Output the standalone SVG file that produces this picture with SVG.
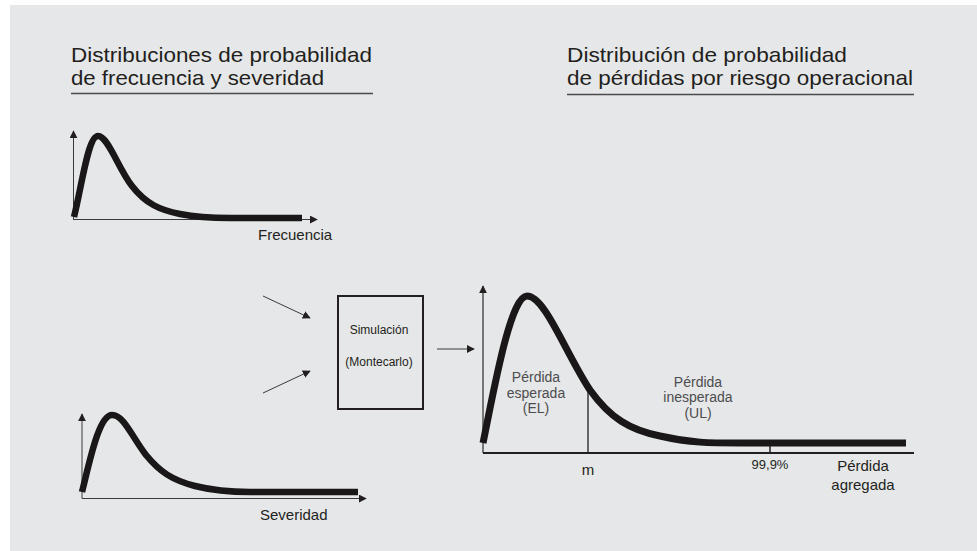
<svg xmlns="http://www.w3.org/2000/svg" width="977" height="551" viewBox="0 0 977 551">
<defs>
<style>
.title{font-family:"Liberation Sans",Arial,sans-serif;font-size:21px;fill:#231f20}
.lbl{font-family:"Liberation Sans",Arial,sans-serif;font-size:15px;fill:#231f20}
.sm{font-family:"Liberation Sans",Arial,sans-serif;font-size:12px;fill:#231f20;text-anchor:middle}
.gr{font-family:"Liberation Sans",Arial,sans-serif;font-size:14px;fill:#4d4d4f;text-anchor:middle}
.curve{fill:none;stroke:#1a1718;stroke-width:6.5}
.axis{fill:none;stroke:#3a3a3a;stroke-width:1}
.rule{fill:none;stroke:#4a4a4a;stroke-width:1.5}
</style>
<marker id="ah" viewBox="0 0 10 10" refX="9" refY="5" markerWidth="8" markerHeight="8" markerUnits="userSpaceOnUse" orient="auto">
<path d="M0,0 L10,5 L0,10 z" fill="#231f20"/>
</marker>
</defs>
<rect x="0" y="0" width="977" height="551" fill="#ffffff"/>
<rect x="10" y="5" width="967" height="546" fill="#e6e7e8"/>

<g id="title-left">
<text class="title" x="71" y="62" textLength="301" lengthAdjust="spacingAndGlyphs">Distribuciones de probabilidad</text>
<text class="title" x="71" y="85" textLength="253" lengthAdjust="spacingAndGlyphs">de frecuencia y severidad</text>
<line class="rule" x1="71" y1="93.5" x2="373" y2="93.5"/>
</g>
<g id="title-right">
<text class="title" x="567" y="62" textLength="280" lengthAdjust="spacingAndGlyphs">Distribución de probabilidad</text>
<text class="title" x="567" y="85" textLength="346" lengthAdjust="spacingAndGlyphs">de pérdidas por riesgo operacional</text>
<line class="rule" x1="567" y1="94.5" x2="914" y2="94.5"/>
</g>

<g id="frecuencia">
<line class="axis" x1="73.5" y1="219.5" x2="73.5" y2="131" marker-end="url(#ah)"/>
<line class="axis" x1="73" y1="219.5" x2="317" y2="219.5" marker-end="url(#ah)"/>
<path class="curve" d="M74,217 C82,185 88,136 98,136 C108,136 118,168 132,186 C146,204 160,210 180,214 C195,217 210,218 230,218 L302,218"/>
<text class="lbl" x="258" y="240">Frecuencia</text>
</g>

<g id="severidad">
<line class="axis" x1="82" y1="498.5" x2="82" y2="414" marker-end="url(#ah)"/>
<line class="axis" x1="82" y1="498.5" x2="366" y2="498.5" marker-end="url(#ah)"/>
<path class="curve" d="M82,492 C90,460 99,415 112,415 C124,415 132,437 146,455 C160,472 172,480 195,486 C215,491 230,492 250,492 L358,492"/>
<text class="lbl" x="260" y="520">Severidad</text>
</g>

<g id="simulacion">
<rect x="338" y="296" width="85" height="113" fill="none" stroke="#231f20" stroke-width="2"/>
<text class="sm" x="379" y="334">Simulación</text>
<text class="sm" x="379" y="366">(Montecarlo)</text>
</g>

<g id="perdida">
<line class="axis" x1="483" y1="453" x2="483" y2="286" marker-end="url(#ah)" style="stroke-width:1.3"/>
<line x1="483" y1="453" x2="914" y2="453" stroke="#231f20" stroke-width="2"/>
<line x1="588" y1="388" x2="588" y2="453" stroke="#231f20" stroke-width="1.3"/>
<line x1="770" y1="443" x2="770" y2="453" stroke="#231f20" stroke-width="1.5"/>
<path class="curve" style="stroke-width:7" d="M483,443 C493,395 510,296 527,296 C545,296 565,352 590,390 C610,418 630,430 660,436 C690,443 710,443 740,443 L906,443"/>
<text class="gr" x="536" y="382">Pérdida</text>
<text class="gr" x="536" y="398">esperada</text>
<text class="gr" x="536" y="413">(EL)</text>
<text class="gr" x="698" y="387">Pérdida</text>
<text class="gr" x="698" y="402">inesperada</text>
<text class="gr" x="698" y="418">(UL)</text>
<text class="lbl" x="588" y="475" text-anchor="middle">m</text>
<text class="sm" x="770" y="469" style="font-size:13px">99,9%</text>
<text class="lbl" x="863" y="471" text-anchor="middle">Pérdida</text>
<text class="lbl" x="863" y="490" text-anchor="middle">agregada</text>
</g>

<g id="connectors">
<line class="axis" x1="263" y1="296" x2="310" y2="318" marker-end="url(#ah)"/>
<line class="axis" x1="263" y1="393" x2="310" y2="371" marker-end="url(#ah)"/>
<line class="axis" x1="437" y1="349" x2="474" y2="349" marker-end="url(#ah)"/>
</g>
</svg>
